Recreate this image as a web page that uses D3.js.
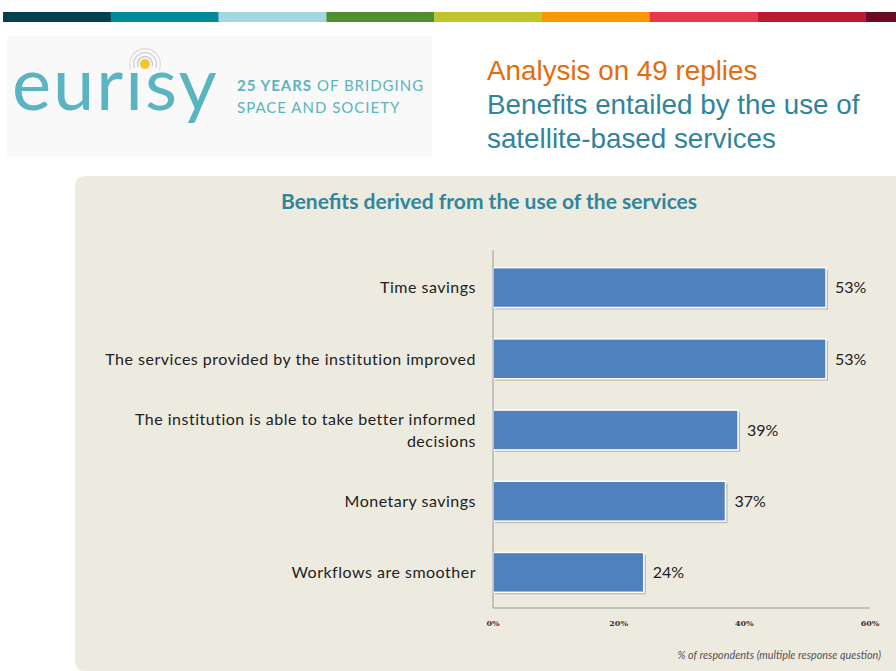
<!DOCTYPE html>
<html>
<head>
<meta charset="utf-8">
<script src="https://cdn.jsdelivr.net/npm/d3@7"></script>
<style>
  body { margin: 0; background: #fff; }
  svg { display: block; }
</style>
</head>
<body>
<script>
// chart data
var categories = [
  "Time savings",
  "The services provided by the institution improved",
  "The institution is able to take better informed decisions",
  "Monetary savings",
  "Workflows are smoother"
];
var values = [53, 53, 39, 37, 24];
var ticks = [0, 20, 40, 60];

// header stripe colours
var stripeColors = ["#034151", "#008a99", "#a3d7e0", "#4f8f32", "#c2c42b",
                    "#f79800", "#e63a4c", "#b81a31", "#6b0a23"];

var W = 896, H = 671;

var svg = d3.select("body").append("svg")
    .attr("width", W)
    .attr("height", H);

// top stripe
svg.selectAll(".stripe")
    .data(stripeColors)
  .enter().append("rect")
    .attr("class", "stripe")
    .attr("x", function(d, i) { return 3 + i * 107.8; })
    .attr("y", 12)
    .attr("width", 108)
    .attr("height", 10)
    .attr("fill", function(d) { return d; });

// logo block
var logo = svg.append("g");
logo.append("rect")
    .attr("x", 7).attr("y", 36)
    .attr("width", 425).attr("height", 121)
    .attr("fill", "#f9f9f9");

[16, 12, 8].forEach(function(r, i) {
  logo.append("path")
      .attr("d", d3.arc()({innerRadius: r - 1.2, outerRadius: r, startAngle: -Math.PI * 0.62, endAngle: Math.PI * 0.62}))
      .attr("transform", "translate(145,64)")
      .attr("fill", ["#dcdcdc", "#cfcfcf", "#c4c4c4"][i]);
});
logo.append("circle")
    .attr("cx", 145).attr("cy", 64).attr("r", 5)
    .attr("fill", "#f5c431");

logo.append("text")
    .attr("x", 12).attr("y", 110)
    .style("font-family", "Lato, sans-serif")
    .style("font-weight", 400)
    .style("font-size", "74px")
    .style("letter-spacing", "2px")
    .attr("fill", "#5ab4c1")
    .text("eur\u0131sy");

var tag = logo.append("text")
    .attr("x", 237).attr("y", 91)
    .style("font-family", "Lato, sans-serif")
    .style("font-size", "15px")
    .style("letter-spacing", "1px")
    .attr("fill", "#5ab4c1");
tag.append("tspan").style("font-weight", "bold").text("25 YEARS");
tag.append("tspan").text(" OF BRIDGING");
logo.append("text")
    .attr("x", 237).attr("y", 113)
    .style("font-family", "Lato, sans-serif")
    .style("font-size", "15px")
    .style("letter-spacing", "1px")
    .attr("fill", "#5ab4c1")
    .text("SPACE AND SOCIETY");

// slide headings
var head = [
  {t: "Analysis on 49 replies", y: 80, c: "#e46c0a"},
  {t: "Benefits entailed by the use of", y: 114, c: "#31849b"},
  {t: "satellite-based services", y: 148, c: "#31849b"}
];
svg.selectAll(".head")
    .data(head)
  .enter().append("text")
    .attr("x", 487)
    .attr("y", function(d) { return d.y; })
    .attr("fill", function(d) { return d.c; })
    .style("font-family", "'Liberation Sans', Arial, sans-serif")
    .style("font-size", "27.8px")
    .text(function(d) { return d.t; });

// chart panel
svg.append("path")
    .attr("d", "M75,186 Q75,176 85,176 L896,176 L896,671 L85,671 Q75,671 75,661 Z")
    .attr("fill", "#edeae0");

svg.append("text")
    .attr("x", 489).attr("y", 209)
    .attr("text-anchor", "middle")
    .attr("fill", "#31859c")
    .style("font-family", "Lato, sans-serif")
    .style("font-weight", "bold")
    .style("font-size", "21px")
    .text("Benefits derived from the use of the services");

// scales
var x = d3.scaleLinear().domain([0, 60]).range([493, 870]);
var y = d3.scaleBand().domain(categories).range([252, 608]).paddingInner(0.44).paddingOuter(0.22);

// bars, with a soft shadow
var bar = svg.selectAll(".bar")
    .data(values)
  .enter().append("g");

bar.append("rect")
    .attr("x", x(0) + 2)
    .attr("y", function(d, i) { return y(categories[i]) + 2; })
    .attr("width", function(d) { return x(d) - x(0); })
    .attr("height", y.bandwidth())
    .attr("fill", "#9c9a92")
    .attr("opacity", 0.6);

bar.append("rect")
    .attr("x", x(0))
    .attr("y", function(d, i) { return y(categories[i]); })
    .attr("width", function(d) { return x(d) - x(0); })
    .attr("height", y.bandwidth())
    .attr("fill", "#4f81bd")
    .attr("stroke", "#fff")
    .attr("stroke-width", 1.5);

bar.append("text")
    .attr("x", function(d) { return x(d) + 9; })
    .attr("y", function(d, i) { return y(categories[i]) + y.bandwidth() / 2; })
    .attr("dy", "0.36em")
    .attr("fill", "#222")
    .style("font-family", "Lato, sans-serif")
    .style("font-size", "16px")
    .text(function(d) { return d + "%"; });

// axes lines
svg.append("line")
    .attr("x1", x(0)).attr("x2", x(0))
    .attr("y1", 250).attr("y2", 608)
    .attr("stroke", "#999");
svg.append("line")
    .attr("x1", x(0)).attr("x2", x(60))
    .attr("y1", 608).attr("y2", 608)
    .attr("stroke", "#999");

// category labels, wrapped
var lab = svg.selectAll(".cat")
    .data(categories)
  .enter().append("text")
    .attr("text-anchor", "end")
    .attr("fill", "#222")
    .style("font-family", "Lato, sans-serif")
    .style("font-size", "16px")
    .style("letter-spacing", "0.5px");

lab.each(function(d) {
  var t = d3.select(this);
  var lines = d.length > 50 ? [d.replace(/ decisions$/, ""), "decisions"] : [d];
  var cy = y(d) + y.bandwidth() / 2;
  lines.forEach(function(l, i) {
    t.append("tspan")
        .attr("x", 476)
        .attr("y", cy + (i - (lines.length - 1) / 2) * 22)
        .attr("dy", "0.36em")
        .text(l);
  });
});

// tick labels
svg.selectAll(".tick")
    .data(ticks)
  .enter().append("text")
    .attr("x", function(d) { return x(d); })
    .attr("y", 626)
    .attr("text-anchor", "middle")
    .attr("fill", "#333")
    .style("font-family", "'DejaVu Serif', serif")
    .style("font-weight", "bold")
    .style("font-size", "8px")
    .text(function(d) { return d + "%"; });

svg.append("text")
    .attr("x", 881).attr("y", 659)
    .attr("text-anchor", "end")
    .attr("fill", "#555")
    .style("font-family", "Lato, sans-serif")
    .style("font-style", "italic")
    .style("font-size", "10.8px")
    .text("% of respondents (multiple  response question)");
</script>
</body>
</html>
